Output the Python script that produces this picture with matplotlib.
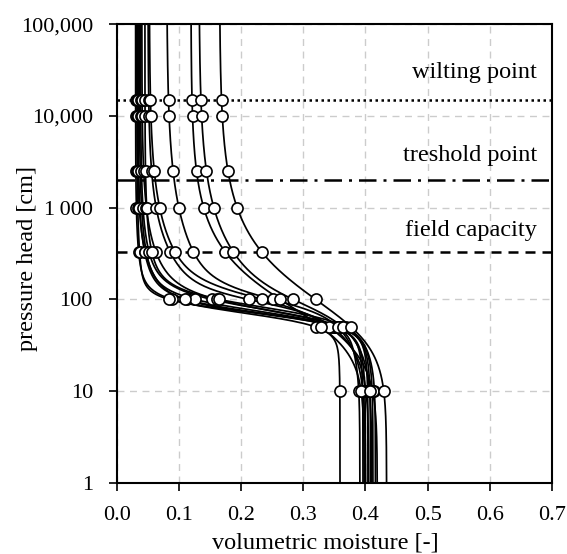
import numpy as np
import matplotlib
matplotlib.use("Agg")
import matplotlib.pyplot as plt

plt.rcParams['font.family'] = ['Liberation Serif', 'DejaVu Serif']
plt.rcParams['font.size'] = 16

# measurement heads [cm]
heads = [10, 50, 100, 330, 1000, 2500, 10000, 15000]

# fitted retention curves, one entry per sample (bimodal van Genuchten)
theta_r = [0.030, 0.032, 0.034, 0.036, 0.033, 0.038, 0.040, 0.045, 0.050, 0.052, 0.080, 0.119, 0.132, 0.165]
theta_s = [0.359, 0.391, 0.396, 0.400, 0.404, 0.408, 0.412, 0.416, 0.405, 0.419, 0.400, 0.398, 0.410, 0.434]
w1      = [0.90, 0.88, 0.80, 0.82, 0.75, 0.78, 0.70, 0.72, 0.45, 0.40, 0.50, 0.0, 0.30, 0.0]
alpha1  = [0.0145, 0.0140, 0.0145, 0.0140, 0.0150, 0.0135, 0.0140, 0.0125, 0.0110, 0.0100, 0.0105, 0.015, 0.012, 0.015]
n1      = [6.0, 7.0, 6.0, 5.5, 6.5, 5.0, 5.0, 5.5, 6.0, 5.0, 5.0, 5.0, 4.0, 5.0]
alpha2  = [0.015, 0.030, 0.015, 0.018, 0.014, 0.016, 0.015, 0.020, 0.020, 0.025, 0.020, 0.018, 0.0163, 0.0165]
n2      = [2.2, 2.0, 2.2, 2.0, 2.3, 2.1, 2.0, 2.2, 1.9, 1.8, 1.7, 1.9, 1.75, 1.8]

# reference suction levels
ref_heads = [15000, 2000, 330]
ref_names = ['wilting point', 'treshold point', 'field capacity']
ref_styles = [(0, (1, 1.4)), (0, (7, 2.8, 1.2, 2.8)), (0, (4, 2.8))]
label_heads = [30000, 3740, 570]

ytick_vals = [1, 10, 100, 1000, 10000, 100000]
ytick_labels = ['1', '10', '100', '1\u2009000', '10,000', '100,000']


def vg(h, a, n):
    return (1 + (a * h) ** n) ** (-(1 - 1 / n))


def theta(h, i):
    s = w1[i] * vg(h, alpha1[i], n1[i]) + (1 - w1[i]) * vg(h, alpha2[i], n2[i])
    return theta_r[i] + (theta_s[i] - theta_r[i]) * s


fig = plt.figure(figsize=(5.67, 5.54), dpi=100)
ax = fig.add_axes([0.2063, 0.128, 0.767, 0.8285])

ax.set_yscale('log')
ax.set_xlim(0, 0.7)
ax.set_ylim(1, 100000)

ax.grid(True, which='major', color='#cccccc', linestyle=(0, (5, 4)), linewidth=1.0)
ax.set_axisbelow(True)

for h, name, ls, lh in zip(ref_heads, ref_names, ref_styles, label_heads):
    ax.axhline(h, color='black', linestyle=ls, linewidth=1.8, zorder=2)
    ax.text(0.676, lh, name, ha='right', va='center', fontsize=17.5)

hh = np.logspace(0, 5, 400)
hm = np.array(heads, dtype=float)
for i in range(len(theta_r)):
    ax.plot(theta(hh, i), hh, color='black', linewidth=1.25, zorder=3)
for i in range(len(theta_r)):
    ax.plot(theta(hm, i), hm, linestyle='none', marker='o', markersize=8,
            markerfacecolor='white', markeredgecolor='black', markeredgewidth=1.2, zorder=4)

ax.set_xticks(np.arange(0, 0.71, 0.1))
ax.set_xticklabels(['%.1f' % v for v in np.arange(0, 0.71, 0.1)])
ax.set_yticks(ytick_vals)
ax.set_yticklabels(ytick_labels)
ax.yaxis.set_minor_locator(matplotlib.ticker.NullLocator())
ax.tick_params(direction='out', length=5.8, width=1.2, labelsize=16)
ax.tick_params(axis='x', pad=11)
ax.tick_params(axis='y', pad=11.5)
for sp in ax.spines.values():
    sp.set_linewidth(1.5)

ax.set_xlabel('volumetric moisture [-]', fontsize=17.5, va='center')
ax.xaxis.set_label_coords(0.48, -0.131)
ax.set_ylabel('pressure head [cm]', fontsize=17.5, va='center')
ax.yaxis.set_label_coords(-0.2046, 0.49)

fig.savefig('out.png', dpi=100)
